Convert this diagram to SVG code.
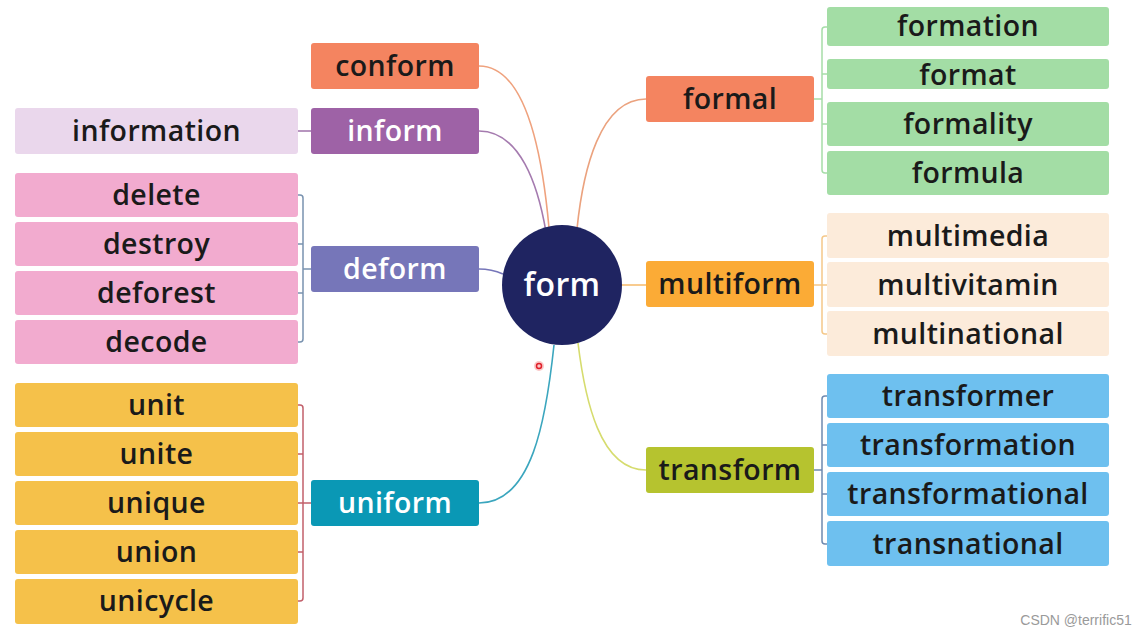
<svg xmlns="http://www.w3.org/2000/svg" width="1137" height="635" viewBox="0 0 1137 635">
<style>
text{font-family:"Open Sans","Liberation Sans",sans-serif;font-weight:600;font-size:28.5px;letter-spacing:0.4px;text-anchor:middle;fill:#1a1a1a}
.w{fill:#ffffff}
.c{fill:none;stroke-width:1.6}
.b{fill:none;stroke-width:1.5}
rect{rx:3px}
</style>
<rect x="0" y="0" width="1137" height="635" fill="#ffffff"/>
<g id="connectors">
<path class="c" stroke="#EFA27E" d="M479,66 C525,66 542,150 549,228"/>
<path class="c" stroke="#A57BAF" d="M479,131 C520,131 538,185 546,232"/>
<path class="c" stroke="#7676B9" d="M479,269 C490,269 496,271 503,274"/>
<path class="c" stroke="#3BA6BE" d="M479,503 C532,503 546,420 554,345"/>
<path class="c" stroke="#EBA27E" d="M646,99 C600,99 583,170 577,229"/>
<path class="c" stroke="#F6BE73" d="M622,285 L646,285"/>
<path class="c" stroke="#D6DC6E" d="M646,470 C600,470 585,400 578,343"/>
<path class="c" stroke="#A57BAF" d="M298,131 L311,131"/>
<path class="b" stroke="#7A93B0" d="M298,195 L300,195 Q303,195 303,198 L303,339 Q303,342 300,342 L298,342 M298,244 L303,244 M298,293 L303,293 M303,269 L311,269"/>
<path class="b" stroke="#C2606B" d="M298,405 L300,405 Q303,405 303,408 L303,598 Q303,601 300,601 L298,601 M298,454 L303,454 M298,503 L311,503 M298,552 L303,552"/>
<path class="b" stroke="#A6DDA8" d="M827,27 L825,27 Q822,27 822,30 L822,170 Q822,173 825,173 L827,173 M822,74 L827,74 M822,124 L827,124 M814,99 L822,99"/>
<path class="b" stroke="#F5C889" d="M827,236 L825,236 Q822,236 822,239 L822,331 Q822,334 825,334 L827,334 M814,285 L827,285"/>
<path class="b" stroke="#6F8AB0" d="M827,396 L825,396 Q822,396 822,399 L822,541 Q822,544 825,544 L827,544 M822,445 L827,445 M822,494 L827,494 M814,470 L822,470"/>
</g>
<g id="form">
<circle cx="562" cy="285" r="60" fill="#1F2461"/>
<text class="w" x="562" y="296" style="font-size:32px">form</text>
</g>
<g id="conform"><rect x="311" y="43" width="168" height="46" fill="#F48460"/><text x="395" y="76">conform</text></g>
<g id="inform"><rect x="311" y="108" width="168" height="46" fill="#9E62A6"/><text class="w" x="395" y="141">inform</text></g>
<g id="information"><rect x="15" y="108" width="283" height="46" fill="#EAD7EC"/><text x="156.5" y="141">information</text></g>
<g id="deform"><rect x="311" y="246" width="168" height="46" fill="#7676B9"/><text class="w" x="395" y="279">deform</text></g>
<g id="delete"><rect x="15" y="173" width="283" height="44" fill="#F2ABCF"/><text x="156.5" y="205">delete</text></g>
<g id="destroy"><rect x="15" y="222" width="283" height="44" fill="#F2ABCF"/><text x="156.5" y="254">destroy</text></g>
<g id="deforest"><rect x="15" y="271" width="283" height="44" fill="#F2ABCF"/><text x="156.5" y="303">deforest</text></g>
<g id="decode"><rect x="15" y="320" width="283" height="44" fill="#F2ABCF"/><text x="156.5" y="352">decode</text></g>
<g id="uniform"><rect x="311" y="480" width="168" height="46" fill="#0A98B5"/><text class="w" x="395" y="513">uniform</text></g>
<g id="unit"><rect x="15" y="383" width="283" height="44" fill="#F5C14A"/><text x="156.5" y="415">unit</text></g>
<g id="unite"><rect x="15" y="432" width="283" height="44" fill="#F5C14A"/><text x="156.5" y="464">unite</text></g>
<g id="unique"><rect x="15" y="481" width="283" height="44" fill="#F5C14A"/><text x="156.5" y="513">unique</text></g>
<g id="union"><rect x="15" y="530" width="283" height="44" fill="#F5C14A"/><text x="156.5" y="562">union</text></g>
<g id="unicycle"><rect x="15" y="579" width="283" height="45" fill="#F5C14A"/><text x="156.5" y="611">unicycle</text></g>
<g id="formal"><rect x="646" y="76" width="168" height="46" fill="#F48460"/><text x="730" y="109">formal</text></g>
<g id="formation"><rect x="827" y="7" width="282" height="39" fill="#A3DDA5"/><text x="968" y="36">formation</text></g>
<g id="format"><rect x="827" y="59" width="282" height="30" fill="#A3DDA5"/><text x="968" y="85">format</text></g>
<g id="formality"><rect x="827" y="102" width="282" height="44" fill="#A3DDA5"/><text x="968" y="134">formality</text></g>
<g id="formula"><rect x="827" y="151" width="282" height="44" fill="#A3DDA5"/><text x="968" y="183">formula</text></g>
<g id="multiform"><rect x="646" y="261" width="168" height="46" fill="#FBAB36"/><text x="730" y="294">multiform</text></g>
<g id="multimedia"><rect x="827" y="213" width="282" height="45" fill="#FCEBDA"/><text x="968" y="246">multimedia</text></g>
<g id="multivitamin"><rect x="827" y="262" width="282" height="45" fill="#FCEBDA"/><text x="968" y="295">multivitamin</text></g>
<g id="multinational"><rect x="827" y="311" width="282" height="45" fill="#FCEBDA"/><text x="968" y="344">multinational</text></g>
<g id="transform"><rect x="646" y="447" width="168" height="46" fill="#B6C32F"/><text x="730" y="480">transform</text></g>
<g id="transformer"><rect x="827" y="374" width="282" height="44" fill="#6EC0EF"/><text x="968" y="406">transformer</text></g>
<g id="transformation"><rect x="827" y="423" width="282" height="44" fill="#6EC0EF"/><text x="968" y="455">transformation</text></g>
<g id="transformational"><rect x="827" y="472" width="282" height="44" fill="#6EC0EF"/><text x="968" y="504">transformational</text></g>
<g id="transnational"><rect x="827" y="521" width="282" height="45" fill="#6EC0EF"/><text x="968" y="554">transnational</text></g>
<circle cx="539" cy="366" r="5" fill="#F6B0B0" opacity="0.7"/>
<circle cx="539" cy="366" r="2.5" fill="none" stroke="#E0202A" stroke-width="1.5"/>
<text x="1076" y="625" style="font-family:'Liberation Sans',sans-serif;font-weight:400;font-size:14px;letter-spacing:0;fill:#9a9a9a">CSDN @terrific51</text>
</svg>
